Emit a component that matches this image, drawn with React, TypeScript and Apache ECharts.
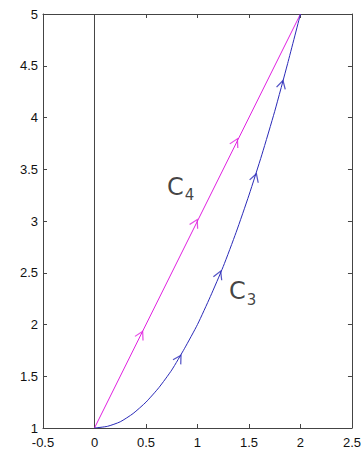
import React, { useEffect, useRef } from "react";
import * as echarts from "echarts";

const xTicks = { min: -0.5, max: 2.5, step: 0.5 };
const yTicks = { min: 1, max: 5, step: 0.5 };

const c4Line: number[][] = [
  [0, 1],
  [2, 5],
];
const c3Curve: number[][] = [
  [0, 1],
  [0.125, 1.016],
  [0.25, 1.06],
  [0.375, 1.14],
  [0.5, 1.25],
  [0.625, 1.39],
  [0.75, 1.56],
  [0.875, 1.77],
  [1, 2],
  [1.125, 2.27],
  [1.25, 2.56],
  [1.375, 2.89],
  [1.5, 3.25],
  [1.625, 3.64],
  [1.75, 4.06],
  [1.875, 4.52],
  [2, 5],
];
const yAxisLine: number[][] = [
  [0, 1],
  [0, 5],
];
// arrow marks: [x, y, rotation degrees]
const c4Arrows: number[][] = [
  [0.45, 1.9, -27],
  [0.98, 2.98, -27],
  [1.37, 3.76, -27],
];
const c3Arrows: number[][] = [
  [0.82, 1.67, -31],
  [1.21, 2.48, -23],
  [1.56, 3.42, -18],
  [1.82, 4.32, -15],
];
const labels = [
  { x: 0.7, y: 3.33, name: "C", sub: "4" },
  { x: 1.3, y: 2.32, name: "C", sub: "3" },
];

const MAGENTA = "#e020e0";
const BLUE = "#2a2ab8";
const AXIS = "#444";
const arrowPath = "path://M0,10 L5,0 L10,10";

export default function App() {
  const ref = useRef<HTMLDivElement>(null);
  useEffect(() => {
    if (!ref.current) return;
    document.body.style.margin = "0";
    const chart = echarts.init(ref.current, undefined, { renderer: "svg" });
    const axisCommon = {
      type: "value" as const,
      axisLine: { show: true, onZero: false, lineStyle: { color: AXIS, width: 1 } },
      axisTick: { show: true, inside: true, length: 4, lineStyle: { color: AXIS } },
      splitLine: { show: false },
    };
    const labelStyle = {
      color: "#111",
      fontSize: 13,
      fontFamily: "Liberation Sans, Arial, sans-serif",
    };
    const arrowSeries = (pts: number[][], color: string) =>
      pts.map((p) => ({
        type: "scatter" as const,
        data: [[p[0], p[1]]],
        symbol: arrowPath,
        symbolSize: [9, 8],
        symbolRotate: p[2],
        itemStyle: { color: "none", borderColor: color, borderWidth: 1.2 },
        silent: true,
        z: 5,
      }));
    chart.setOption({
      animation: false,
      backgroundColor: "#fff",
      grid: { left: 43, top: 14, right: 2, bottom: 22, containLabel: false },
      xAxis: [
        {
          ...axisCommon,
          min: xTicks.min,
          max: xTicks.max,
          interval: xTicks.step,
          position: "bottom",
          axisLabel: { ...labelStyle, margin: 8 },
        },
        {
          ...axisCommon,
          min: xTicks.min,
          max: xTicks.max,
          interval: xTicks.step,
          position: "top",
          axisLabel: { show: false },
        },
      ],
      yAxis: [
        {
          ...axisCommon,
          min: yTicks.min,
          max: yTicks.max,
          interval: yTicks.step,
          position: "left",
          axisLabel: { ...labelStyle, margin: 5 },
        },
        {
          ...axisCommon,
          min: yTicks.min,
          max: yTicks.max,
          interval: yTicks.step,
          position: "right",
          axisLabel: { show: false },
        },
      ],
      series: [
        {
          type: "line",
          data: yAxisLine,
          symbol: "none",
          lineStyle: { color: AXIS, width: 1 },
          silent: true,
        },
        {
          type: "line",
          data: c4Line,
          symbol: "none",
          lineStyle: { color: MAGENTA, width: 1 },
          silent: true,
        },
        {
          type: "line",
          data: c3Curve,
          symbol: "none",
          smooth: 0.2,
          lineStyle: { color: BLUE, width: 1 },
          silent: true,
        },
        ...arrowSeries(c4Arrows, MAGENTA),
        ...arrowSeries(c3Arrows, BLUE),
        {
          type: "scatter",
          data: labels.map((l) => [l.x, l.y]),
          symbolSize: 1,
          itemStyle: { color: "rgba(0,0,0,0)" },
          silent: true,
          label: {
            show: true,
            position: "right",
            distance: 0,
            formatter: (p: any) =>
              `{c|${labels[p.dataIndex].name}}{s|${labels[p.dataIndex].sub}}`,
            rich: {
              c: {
                fontSize: 24,
                color: "#111",
                fontFamily: "DejaVu Sans, sans-serif",
                verticalAlign: "bottom",
              },
              s: {
                fontSize: 15,
                color: "#111",
                fontFamily: "DejaVu Sans, sans-serif",
                verticalAlign: "bottom",
                padding: [0, 0, -4, 1],
              },
            },
          },
        },
      ],
    });
    return () => chart.dispose();
  }, []);
  return <div ref={ref} style={{ width: 364, height: 450 }} />;
}
